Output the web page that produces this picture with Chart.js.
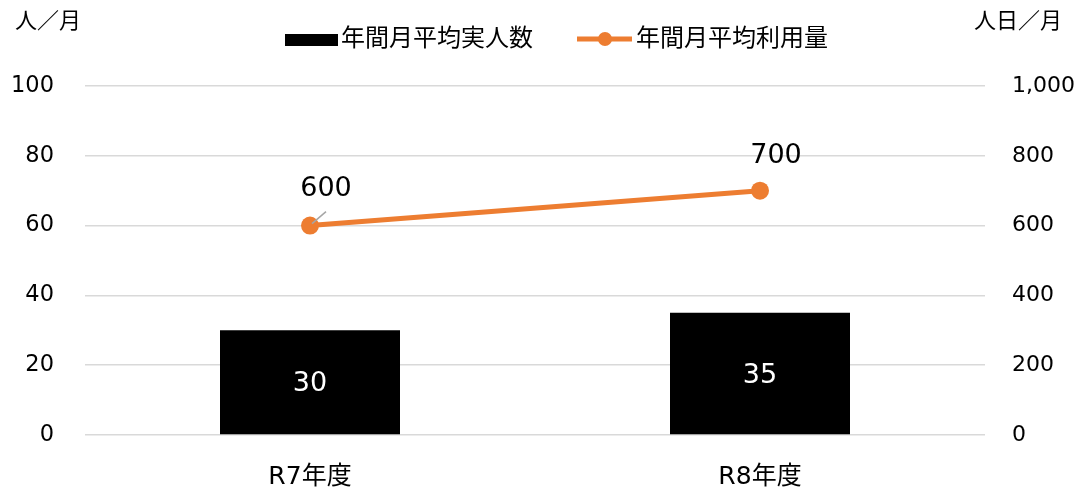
<!DOCTYPE html>
<html>
<head>
<meta charset="utf-8">
<script src="https://cdn.jsdelivr.net/npm/chart.js@4/dist/chart.umd.min.js"></script>
<style>
  html, body { margin: 0; padding: 0; background: #fff; }
  #wrap { width: 1083px; height: 492px; }
</style>
</head>
<body>
<div id="wrap"><canvas id="chart" width="1083" height="492"></canvas></div>
<script>
var categories = ["R7年度", "R8年度"];
var peopleValues = [30, 35];      // 年間月平均実人数 (人／月)
var usageValues = [600, 700];     // 年間月平均利用量 (人日／月)
var leftTicks = [0, 20, 40, 60, 80, 100];
var rightTicks = [0, 200, 400, 600, 800, 1000];

var FONT = "'DejaVu Sans', 'Noto Sans CJK JP', sans-serif";
var ORANGE = "#ED7D31";

// labels on bars and line points, plus legend and axis unit titles
var labelPlugin = {
    id: 'labels',
    afterDatasetsDraw: function(chart) {
        var ctx = chart.ctx;
        ctx.save();
        // bar values (white, centred in bar)
        var barMeta = chart.getDatasetMeta(0);
        ctx.font = "27px " + FONT;
        ctx.fillStyle = "#fff";
        ctx.textAlign = "center";
        ctx.textBaseline = "middle";
        barMeta.data.forEach(function(bar, i) {
            ctx.fillText(peopleValues[i], bar.x, (bar.y + bar.base) / 2 + 2);
        });
        // line values above points
        var lineMeta = chart.getDatasetMeta(1);
        ctx.fillStyle = "#000";
        ctx.font = "27px " + FONT;
        lineMeta.data.forEach(function(pt, i) {
            var lx = pt.x + (i == 0 ? 16 : 16);
            var ly = pt.y - (i == 0 ? 37 : 35);
            if (i == 0) {
                ctx.strokeStyle = "#a6a6a6";
                ctx.lineWidth = 1.5;
                ctx.beginPath();
                ctx.moveTo(pt.x + 2, pt.y - 2);
                ctx.lineTo(pt.x + 16, pt.y - 14);
                ctx.stroke();
            }
            ctx.fillText(usageValues[i].toLocaleString("en-US"), lx, ly);
        });
        ctx.restore();
    },
    afterDraw: function(chart) {
        var ctx = chart.ctx;
        ctx.save();
        ctx.fillStyle = "#000";
        ctx.textBaseline = "middle";
        ctx.font = "22px " + FONT;
        // unit titles
        ctx.textAlign = "left";
        ctx.fillText("人／月", 15, 22);
        ctx.textAlign = "right";
        ctx.fillText("人日／月", 1062, 22);
        // legend
        ctx.font = "24px " + FONT;
        ctx.textAlign = "left";
        ctx.fillRect(285, 34, 53, 12);
        ctx.fillText(chart.data.datasets[0].label, 341, 40);
        ctx.strokeStyle = ORANGE;
        ctx.lineWidth = 5;
        ctx.beginPath();
        ctx.moveTo(577, 39);
        ctx.lineTo(632, 39);
        ctx.stroke();
        ctx.fillStyle = ORANGE;
        ctx.beginPath();
        ctx.arc(605, 39, 7, 0, Math.PI * 2);
        ctx.fill();
        ctx.fillStyle = "#000";
        ctx.fillText(chart.data.datasets[1].label, 636, 40);
        ctx.restore();
    }
};

var ctx = document.getElementById("chart");
var chart = new Chart(ctx, {
    type: 'bar',
    data: {
        labels: categories,
        datasets: [
            {
                type: 'bar',
                label: "年間月平均実人数",
                data: peopleValues,
                backgroundColor: "#000",
                yAxisID: 'y',
                barPercentage: 0.8,
                categoryPercentage: 0.5,
                order: 2
            },
            {
                type: 'line',
                label: "年間月平均利用量",
                data: usageValues,
                borderColor: ORANGE,
                backgroundColor: ORANGE,
                borderWidth: 5,
                pointRadius: 9,
                pointHoverRadius: 9,
                pointBorderWidth: 0,
                yAxisID: 'y2',
                order: 1
            }
        ]
    },
    options: {
        responsive: false,
        animation: false,
        layout: { padding: { top: 86, left: 0, right: 0, bottom: 0 } },
        plugins: {
            legend: { display: false },
            tooltip: { enabled: false }
        },
        scales: {
            x: {
                grid: { display: false, drawTicks: false },
                border: { display: false },
                ticks: { font: { size: 25, family: FONT }, color: "#000", padding: 27 },
                afterFit: function(s) { s.height = 57; }
            },
            y: {
                position: 'left',
                min: 0, max: 100,
                afterBuildTicks: function(s) { s.ticks = leftTicks.map(function(v) { return { value: v }; }); },
                grid: { color: "#d9d9d9", lineWidth: 1.5, drawTicks: false },
                border: { display: false },
                ticks: { font: { size: 22.5, family: FONT }, color: "#000", padding: 31 },
                afterFit: function(s) { s.width = 85; }
            },
            y2: {
                position: 'right',
                min: 0, max: 1000,
                afterBuildTicks: function(s) { s.ticks = rightTicks.map(function(v) { return { value: v }; }); },
                grid: { display: false, drawTicks: false },
                border: { display: false },
                ticks: {
                    font: { size: 22, family: FONT }, color: "#000", padding: 27,
                    callback: function(v) { return v.toLocaleString("en-US"); }
                },
                afterFit: function(s) { s.width = 98; }
            }
        }
    },
    plugins: [labelPlugin]
});
</script>
</body>
</html>
